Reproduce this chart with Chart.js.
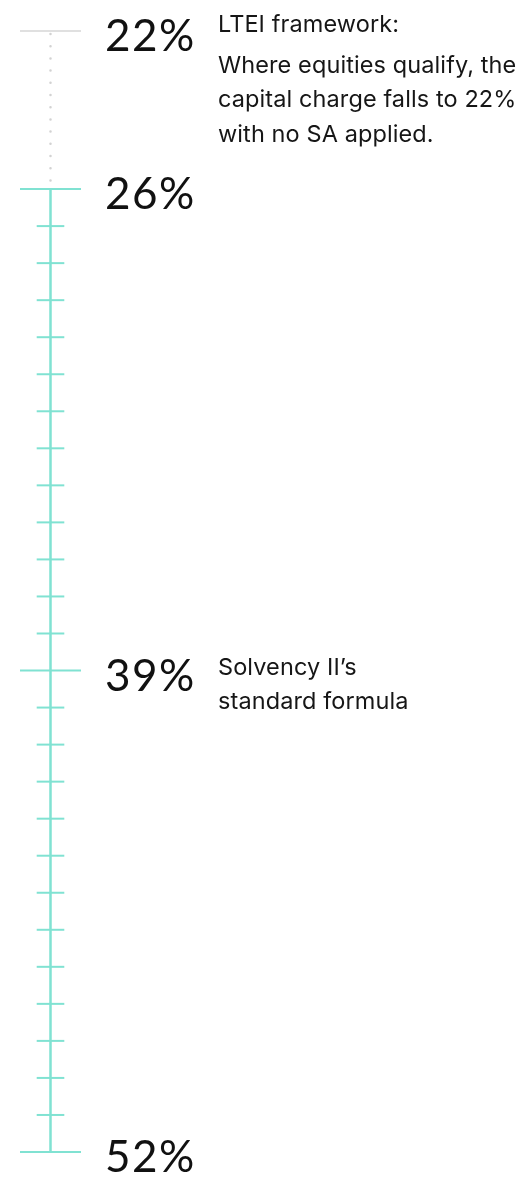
<!DOCTYPE html>
<html>
<head>
<meta charset="utf-8">
<script src="https://cdn.jsdelivr.net/npm/chart.js@4"></script>
<style>
  html, body { margin: 0; padding: 0; background: #fff; }
  #scale { display: block; }
</style>
</head>
<body>
<canvas id="scale" width="525" height="1177"></canvas>
<script>
// scale values (capital charge, %)
const frameworkValue = 22;
const majorValues = [26, 39, 52];
const minorValues = [27, 28, 29, 30, 31, 32, 33, 34, 35, 36, 37, 38, 40, 41, 42, 43, 44, 45, 46, 47, 48, 49, 50, 51];
const labelValues = [22, 26, 39, 52];
const labelTexts = ["22%", "26%", "39%", "52%"];

// notes next to the labels
const noteValues = [22, 39];
const noteTitles = ["LTEI framework:", "Solvency II\u2019s"];
const noteBodies = [
  ["Where equities qualify, the", "capital charge falls to 22%", "with no SA applied."],
  ["standard formula"],
];

const teal = "#80e2d2";

// y scale with a compressed segment above the break value
class SplitScale extends Chart.LinearScale {
  getPixelForValue(value) {
    const b = this.options.breakAt;
    const split = this.top + (this.bottom - this.top) * this.options.breakShare;
    if (value <= b) {
      return this.top + ((value - this.min) / (b - this.min)) * (split - this.top);
    }
    return split + ((value - b) / (this.max - b)) * (this.bottom - split);
  }
  getValueForPixel(pixel) {
    const b = this.options.breakAt;
    const split = this.top + (this.bottom - this.top) * this.options.breakShare;
    if (pixel <= split) {
      return this.min + ((pixel - this.top) / (split - this.top)) * (b - this.min);
    }
    return b + ((pixel - split) / (this.bottom - split)) * (this.max - b);
  }
}
SplitScale.id = "split";
SplitScale.defaults = Chart.LinearScale.defaults;
Chart.register(SplitScale);

const pts = (vals) => vals.map((v) => ({ x: 0, y: v }));

// draws big percentage labels and notes
const scaleLabels = {
  id: "scaleLabels",
  afterDatasetsDraw(chart) {
    const { ctx, scales: { x, y } } = chart;
    ctx.save();
    ctx.fillStyle = "#111";
    ctx.textAlign = "left";
    ctx.textBaseline = "alphabetic";
    ctx.font = "400 44px Lato";
    ctx.letterSpacing = "1.5px";
    labelValues.forEach((v, i) => {
      ctx.fillText(labelTexts[i], x.getPixelForValue(54.5), y.getPixelForValue(v) + 20);
    });

    ctx.font = "23.5px Inter";
    ctx.letterSpacing = "0.1px";
    ctx.fillStyle = "#161616";
    noteValues.forEach((v, i) => {
      const base = y.getPixelForValue(v);
      const nx = x.getPixelForValue(167.5);
      const multi = noteBodies[i].length > 1;
      ctx.fillText(noteTitles[i], nx, base + (multi ? 1 : 4));
      noteBodies[i].forEach((line, j) => {
        ctx.fillText(line, nx, base + (multi ? 42 : 38.5) + j * 34.3);
      });
    });
    ctx.restore();
  },
};

const makeChart = () => {
  new Chart(document.getElementById("scale"), {
    type: "scatter",
    data: {
      datasets: [
        {
          // dotted lead-in from 22 to 26
          data: pts([frameworkValue, majorValues[0]]),
          showLine: true,
          borderColor: "#d2d2d2",
          borderWidth: 2.5,
          borderDash: [0, 12.2],
          borderDashOffset: 9.2,
          borderCapStyle: "round",
          pointRadius: 0,
          clip: false,
        },
        {
          // main spine
          data: pts([majorValues[0], majorValues[majorValues.length - 1]]),
          showLine: true,
          borderColor: teal,
          borderWidth: 2.5,
          pointRadius: 0,
          clip: false,
        },
        {
          data: pts(minorValues),
          pointStyle: "line",
          pointRadius: 13.8,
          borderColor: teal,
          borderWidth: 2,
          clip: false,
        },
        {
          data: pts(majorValues),
          pointStyle: "line",
          pointRadius: 30.5,
          borderColor: teal,
          borderWidth: 2,
          clip: false,
        },
        {
          data: pts([frameworkValue]),
          pointStyle: "line",
          pointRadius: 30.5,
          borderColor: "#e0e0e0",
          borderWidth: 2,
          clip: false,
        },
      ],
    },
    options: {
      responsive: false,
      animation: false,
      events: [],
      layout: { autoPadding: false, padding: { top: 31, bottom: 25, left: 0, right: 0 } },
      plugins: { legend: { display: false }, tooltip: { enabled: false } },
      scales: {
        x: { type: "linear", min: -50.5, max: 474.5, display: false },
        y: {
          type: "split",
          min: 22,
          max: 52,
          breakAt: 26,
          breakShare: 0.141,
          display: false,
        },
      },
    },
    plugins: [scaleLabels],
  });
};

Promise.all([
  document.fonts.load("400 44px Lato"),
  document.fonts.load("23.5px Inter"),
]).then(makeChart, makeChart);
</script>
</body>
</html>
